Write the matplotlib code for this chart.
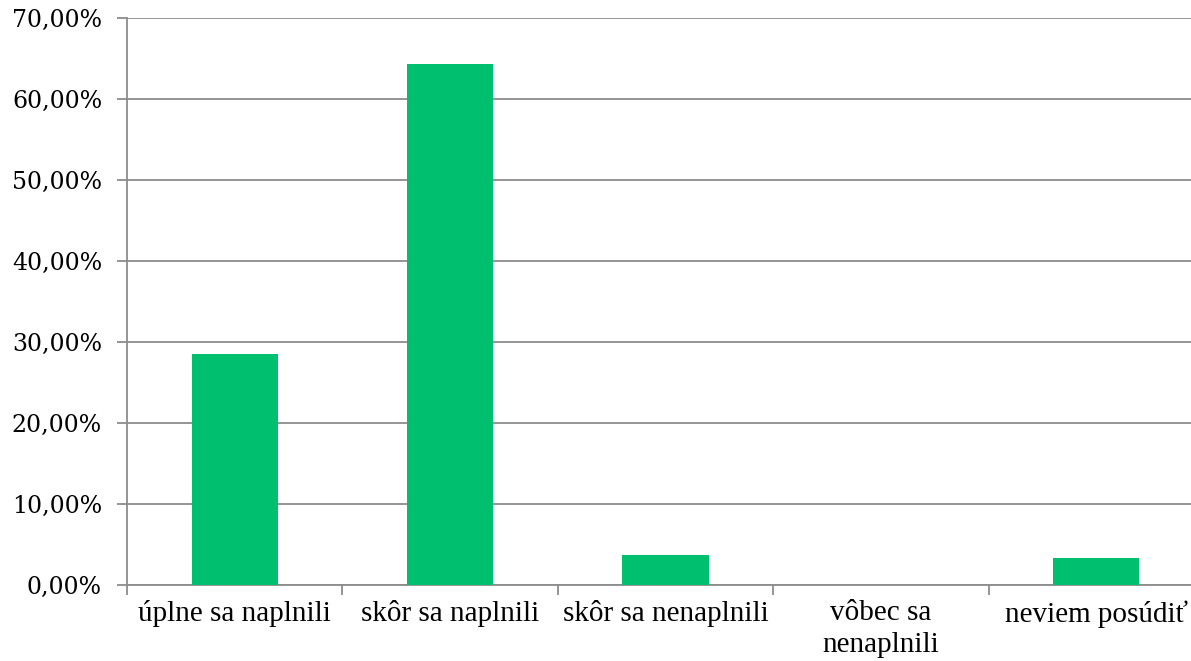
import matplotlib.pyplot as plt
from matplotlib.ticker import FuncFormatter

# Data
categories = ["úplne sa naplnili", "skôr sa naplnili", "skôr sa nenaplnili",
              "vôbec sa\nnenaplnili", "neviem posúdiť"]
values = [28.5, 64.3, 3.7, 0.0, 3.3]

bar_color = "#00BF6F"
grid_color = "#8C8C8C"

fig = plt.figure(figsize=(11.91, 6.61), dpi=100)
# plot area runs a bit past the right edge, as in the original
ax = fig.add_axes([127 / 1191, 1 - 585 / 661, (1204 - 127) / 1191, (585 - 18) / 661])

x = range(len(categories))
ax.bar(x, values, width=0.4, color=bar_color, zorder=3)

ax.set_xlim(-0.5, len(categories) - 0.5)
ax.set_ylim(0, 70)
ax.set_yticks(range(0, 71, 10))
ax.yaxis.set_major_formatter(FuncFormatter(lambda v, p: f"{v:.2f}%".replace(".", ",")))
ax.grid(axis="y", color=grid_color, linewidth=1.3, zorder=0)

# category labels between boundary ticks
ax.set_xticks([i + 0.5 for i in range(-1, len(categories))])
ax.set_xticklabels([])
ax.set_xticks(list(x), minor=True)
ax.set_xticklabels(categories, minor=True, fontfamily="Liberation Serif",
                   fontsize=21, linespacing=1.3)
ax.tick_params(axis="x", which="minor", length=0, pad=11)
ax.tick_params(axis="x", which="major", length=7, width=1.3, color=grid_color)
ax.tick_params(axis="y", length=7, width=1.3, color=grid_color, pad=11,
               labelsize=17, labelfontfamily="DejaVu Serif")

for side in ["top", "right"]:
    ax.spines[side].set_visible(False)
for side in ["left", "bottom"]:
    ax.spines[side].set_color(grid_color)
    ax.spines[side].set_linewidth(1.3)

fig.savefig("out.png", dpi=100)
